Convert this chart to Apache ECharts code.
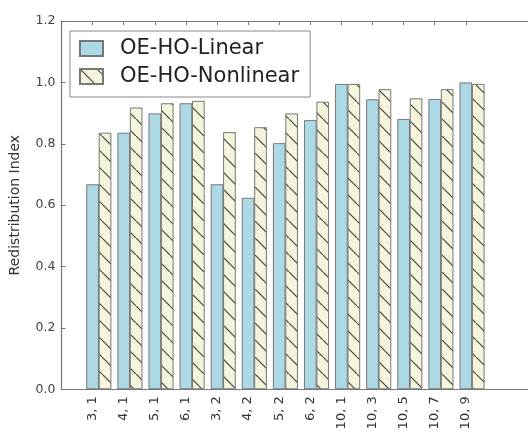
<!DOCTYPE html>
<html>
<head>
<meta charset="utf-8">
<script src="https://cdn.jsdelivr.net/npm/echarts@6/dist/echarts.min.js"></script>
<style>html,body{margin:0;padding:0;background:#fff;}#c{width:528px;height:437px;}</style>
</head>
<body>
<div id="c"></div>
<script>
const categories = ['3, 1','4, 1','5, 1','6, 1','3, 2','4, 2','5, 2','6, 2','10, 1','10, 3','10, 5','10, 7','10, 9'];
const linearValues = [0.668,0.836,0.899,0.932,0.668,0.624,0.802,0.877,0.995,0.945,0.881,0.946,1.000];
const nonlinearValues = [0.836,0.918,0.932,0.940,0.838,0.854,0.899,0.937,0.995,0.978,0.948,0.978,0.995];
const yTicks = [0,0.2,0.4,0.6,0.8,1.0,1.2];
const seriesNames = ['OE-HO-Linear','OE-HO-Nonlinear'];

const FONT = 'DejaVu Sans';
const barOffset = 0.4; // second bar sits one bar-width to the right
const unitPx = 31.69;

// hatch pattern
const tile = document.createElement('canvas');
tile.width = 17; tile.height = 17;
const g = tile.getContext('2d');
g.fillStyle = '#f5f5dc';
g.fillRect(0,0,17,17);
g.strokeStyle = '#444';
g.lineWidth = 1.2;
g.beginPath();
g.moveTo(-2,-2); g.lineTo(19,19);
g.stroke();

const tickIdx = categories.map((c,i)=>i);
const axisColor = '#777';

const chart = echarts.init(document.getElementById('c'), null, {renderer:'canvas'});
chart.setOption({
  animation: false,
  backgroundColor: '#fff',
  textStyle: {fontFamily: FONT},
  legend: {
    orient: 'vertical',
    left: 70, top: 31,
    padding: [7, 11, 10, 9],
    itemWidth: 23, itemHeight: 15, itemGap: 7,
    icon: 'rect',
    borderColor: '#888', borderWidth: 1,
    textStyle: {fontFamily: FONT, fontSize: 21, color: '#222', padding: [0,0,0,12]},
    data: seriesNames
  },
  grid: {left: 61.5, top: 21, width: 15*unitPx, height: 368.3, containLabel: false},
  xAxis: [{
    type: 'value', min: -1, max: 14, interval: 1, position: 'bottom',
    axisLine: {show: true, onZero: false, lineStyle: {color: axisColor, width: 1.2}},
    axisTick: {show: true, inside: true, length: 4, customValues: tickIdx, lineStyle: {color: axisColor}},
    axisLabel: {show: true, customValues: tickIdx, rotate: 90, margin: 7, fontSize: 13, color: '#333', fontFamily: FONT,
      formatter: v => categories[Math.round(v)] || ''},
    splitLine: {show: false}
  },{
    type: 'value', min: -1, max: 14, interval: 1, position: 'top',
    axisLine: {show: true, onZero: false, lineStyle: {color: axisColor, width: 1.2}},
    axisTick: {show: true, inside: true, length: 4, customValues: tickIdx, lineStyle: {color: axisColor}},
    axisLabel: {show: false},
    splitLine: {show: false}
  }],
  yAxis: [{
    type: 'value', min: 0, max: 1.2, interval: 0.2,
    name: 'Redistribution Index', nameLocation: 'middle', nameGap: 39,
    nameTextStyle: {fontFamily: FONT, fontSize: 14, color: '#333'},
    axisLine: {show: true, onZero: false, lineStyle: {color: axisColor, width: 1.2}},
    axisTick: {show: true, inside: true, length: 4, lineStyle: {color: axisColor}},
    axisLabel: {margin: 6, fontSize: 12.5, color: '#444', fontFamily: FONT, formatter: v => v.toFixed(1)},
    splitLine: {show: false}
  }],
  series: [{
    name: seriesNames[0], type: 'bar', xAxisIndex: 0,
    barWidth: unitPx*0.4, barGap: '-100%',
    itemStyle: {color: '#add8e6', borderColor: '#777', borderWidth: 1},
    data: linearValues.map((v,i)=>[i, v])
  },{
    name: seriesNames[1], type: 'bar', xAxisIndex: 0,
    barWidth: unitPx*0.4, barGap: '-100%',
    itemStyle: {color: {image: tile, repeat: 'repeat'}, borderColor: '#777', borderWidth: 1},
    data: nonlinearValues.map((v,i)=>[i + barOffset, v])
  }]
});
</script>
</body>
</html>
